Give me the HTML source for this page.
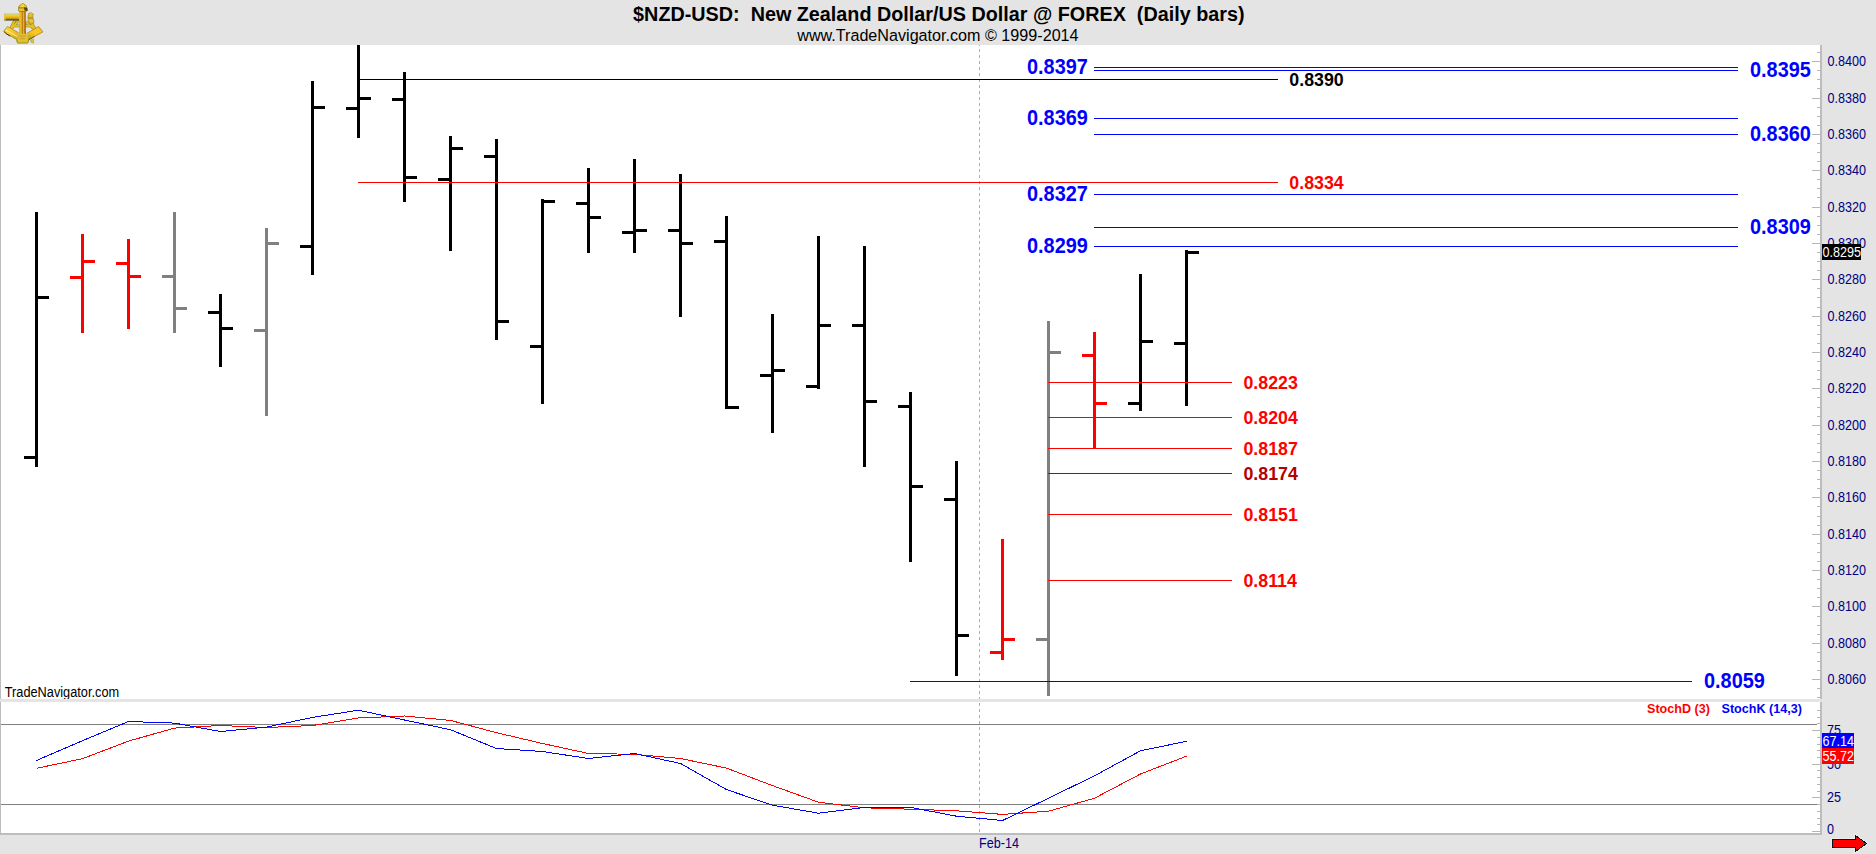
<!DOCTYPE html>
<html lang="en">
<head>
<meta charset="utf-8">
<title>$NZD-USD: New Zealand Dollar/US Dollar @ FOREX (Daily bars)</title>
<style>
html,body{margin:0;padding:0;background:#e4e4e4;overflow:hidden;}
body{width:1876px;height:854px;font-family:"Liberation Sans", sans-serif;}
svg{display:block;}
text{white-space:pre;}
</style>
</head>
<body>
<svg width="1876" height="854" viewBox="0 0 1876 854" font-family='"Liberation Sans", sans-serif'>
<rect x="0" y="0" width="1876" height="854" fill="#e4e4e4"/>
<rect x="0" y="45" width="1820" height="654" fill="#fff"/>
<rect x="0" y="702" width="1820" height="131" fill="#fff"/>
<g shape-rendering="crispEdges">
<rect x="0" y="45" width="1" height="654" fill="#bcbcbc"/>
<rect x="0" y="702" width="1" height="132" fill="#bcbcbc"/>
<rect x="1820" y="45" width="2" height="654" fill="#bdbdbd"/>
<rect x="1820" y="702" width="2" height="133" fill="#bdbdbd"/>
<rect x="0" y="833" width="1822" height="2" fill="#bdbdbd"/>
<line x1="979.5" y1="45" x2="979.5" y2="699" stroke="#adadad" stroke-width="1" stroke-dasharray="3 3" stroke-dashoffset="2"/>
<line x1="979.5" y1="702" x2="979.5" y2="833" stroke="#adadad" stroke-width="1" stroke-dasharray="3 3" stroke-dashoffset="5"/>
<rect x="1817" y="52" width="3" height="1" fill="#b6b6b6"/>
<rect x="1812" y="61" width="8" height="1" fill="#b6b6b6"/>
<rect x="1817" y="70" width="3" height="1" fill="#b6b6b6"/>
<rect x="1817" y="79" width="3" height="1" fill="#b6b6b6"/>
<rect x="1817" y="88" width="3" height="1" fill="#b6b6b6"/>
<rect x="1812" y="98" width="8" height="1" fill="#b6b6b6"/>
<rect x="1817" y="107" width="3" height="1" fill="#b6b6b6"/>
<rect x="1817" y="116" width="3" height="1" fill="#b6b6b6"/>
<rect x="1817" y="125" width="3" height="1" fill="#b6b6b6"/>
<rect x="1812" y="134" width="8" height="1" fill="#b6b6b6"/>
<rect x="1817" y="143" width="3" height="1" fill="#b6b6b6"/>
<rect x="1817" y="152" width="3" height="1" fill="#b6b6b6"/>
<rect x="1817" y="161" width="3" height="1" fill="#b6b6b6"/>
<rect x="1812" y="170" width="8" height="1" fill="#b6b6b6"/>
<rect x="1817" y="179" width="3" height="1" fill="#b6b6b6"/>
<rect x="1817" y="188" width="3" height="1" fill="#b6b6b6"/>
<rect x="1817" y="197" width="3" height="1" fill="#b6b6b6"/>
<rect x="1812" y="207" width="8" height="1" fill="#b6b6b6"/>
<rect x="1817" y="216" width="3" height="1" fill="#b6b6b6"/>
<rect x="1817" y="225" width="3" height="1" fill="#b6b6b6"/>
<rect x="1817" y="234" width="3" height="1" fill="#b6b6b6"/>
<rect x="1812" y="243" width="8" height="1" fill="#b6b6b6"/>
<rect x="1817" y="252" width="3" height="1" fill="#b6b6b6"/>
<rect x="1817" y="261" width="3" height="1" fill="#b6b6b6"/>
<rect x="1817" y="270" width="3" height="1" fill="#b6b6b6"/>
<rect x="1812" y="279" width="8" height="1" fill="#b6b6b6"/>
<rect x="1817" y="288" width="3" height="1" fill="#b6b6b6"/>
<rect x="1817" y="297" width="3" height="1" fill="#b6b6b6"/>
<rect x="1817" y="307" width="3" height="1" fill="#b6b6b6"/>
<rect x="1812" y="316" width="8" height="1" fill="#b6b6b6"/>
<rect x="1817" y="325" width="3" height="1" fill="#b6b6b6"/>
<rect x="1817" y="334" width="3" height="1" fill="#b6b6b6"/>
<rect x="1817" y="343" width="3" height="1" fill="#b6b6b6"/>
<rect x="1812" y="352" width="8" height="1" fill="#b6b6b6"/>
<rect x="1817" y="361" width="3" height="1" fill="#b6b6b6"/>
<rect x="1817" y="370" width="3" height="1" fill="#b6b6b6"/>
<rect x="1817" y="379" width="3" height="1" fill="#b6b6b6"/>
<rect x="1812" y="388" width="8" height="1" fill="#b6b6b6"/>
<rect x="1817" y="397" width="3" height="1" fill="#b6b6b6"/>
<rect x="1817" y="407" width="3" height="1" fill="#b6b6b6"/>
<rect x="1817" y="416" width="3" height="1" fill="#b6b6b6"/>
<rect x="1812" y="425" width="8" height="1" fill="#b6b6b6"/>
<rect x="1817" y="434" width="3" height="1" fill="#b6b6b6"/>
<rect x="1817" y="443" width="3" height="1" fill="#b6b6b6"/>
<rect x="1817" y="452" width="3" height="1" fill="#b6b6b6"/>
<rect x="1812" y="461" width="8" height="1" fill="#b6b6b6"/>
<rect x="1817" y="470" width="3" height="1" fill="#b6b6b6"/>
<rect x="1817" y="479" width="3" height="1" fill="#b6b6b6"/>
<rect x="1817" y="488" width="3" height="1" fill="#b6b6b6"/>
<rect x="1812" y="497" width="8" height="1" fill="#b6b6b6"/>
<rect x="1817" y="506" width="3" height="1" fill="#b6b6b6"/>
<rect x="1817" y="516" width="3" height="1" fill="#b6b6b6"/>
<rect x="1817" y="525" width="3" height="1" fill="#b6b6b6"/>
<rect x="1812" y="534" width="8" height="1" fill="#b6b6b6"/>
<rect x="1817" y="543" width="3" height="1" fill="#b6b6b6"/>
<rect x="1817" y="552" width="3" height="1" fill="#b6b6b6"/>
<rect x="1817" y="561" width="3" height="1" fill="#b6b6b6"/>
<rect x="1812" y="570" width="8" height="1" fill="#b6b6b6"/>
<rect x="1817" y="579" width="3" height="1" fill="#b6b6b6"/>
<rect x="1817" y="588" width="3" height="1" fill="#b6b6b6"/>
<rect x="1817" y="597" width="3" height="1" fill="#b6b6b6"/>
<rect x="1812" y="606" width="8" height="1" fill="#b6b6b6"/>
<rect x="1817" y="616" width="3" height="1" fill="#b6b6b6"/>
<rect x="1817" y="625" width="3" height="1" fill="#b6b6b6"/>
<rect x="1817" y="634" width="3" height="1" fill="#b6b6b6"/>
<rect x="1812" y="643" width="8" height="1" fill="#b6b6b6"/>
<rect x="1817" y="652" width="3" height="1" fill="#b6b6b6"/>
<rect x="1817" y="661" width="3" height="1" fill="#b6b6b6"/>
<rect x="1817" y="670" width="3" height="1" fill="#b6b6b6"/>
<rect x="1812" y="679" width="8" height="1" fill="#b6b6b6"/>
<rect x="1817" y="688" width="3" height="1" fill="#b6b6b6"/>
<rect x="1817" y="697" width="3" height="1" fill="#b6b6b6"/>
<rect x="1812" y="831" width="8" height="1" fill="#b6b6b6"/>
<rect x="1817" y="824" width="3" height="1" fill="#b6b6b6"/>
<rect x="1817" y="818" width="3" height="1" fill="#b6b6b6"/>
<rect x="1817" y="811" width="3" height="1" fill="#b6b6b6"/>
<rect x="1817" y="804" width="3" height="1" fill="#b6b6b6"/>
<rect x="1812" y="797" width="8" height="1" fill="#b6b6b6"/>
<rect x="1817" y="791" width="3" height="1" fill="#b6b6b6"/>
<rect x="1817" y="784" width="3" height="1" fill="#b6b6b6"/>
<rect x="1817" y="777" width="3" height="1" fill="#b6b6b6"/>
<rect x="1817" y="770" width="3" height="1" fill="#b6b6b6"/>
<rect x="1812" y="764" width="8" height="1" fill="#b6b6b6"/>
<rect x="1817" y="757" width="3" height="1" fill="#b6b6b6"/>
<rect x="1817" y="750" width="3" height="1" fill="#b6b6b6"/>
<rect x="1817" y="744" width="3" height="1" fill="#b6b6b6"/>
<rect x="1817" y="737" width="3" height="1" fill="#b6b6b6"/>
<rect x="1812" y="730" width="8" height="1" fill="#b6b6b6"/>
<rect x="1817" y="723" width="3" height="1" fill="#b6b6b6"/>
<rect x="1817" y="717" width="3" height="1" fill="#b6b6b6"/>
<rect x="1817" y="710" width="3" height="1" fill="#b6b6b6"/>
<rect x="1" y="724" width="1816" height="1" fill="#808080"/>
<rect x="1" y="804" width="1816" height="1" fill="#808080"/>
<rect x="35" y="212" width="3" height="255" fill="#000000"/>
<rect x="24" y="456" width="11" height="3" fill="#000000"/>
<rect x="38" y="296" width="11" height="3" fill="#000000"/>
<rect x="81" y="234" width="3" height="99" fill="#ff0000"/>
<rect x="70" y="276" width="11" height="3" fill="#ff0000"/>
<rect x="84" y="260" width="11" height="3" fill="#ff0000"/>
<rect x="127" y="239" width="3" height="90" fill="#ff0000"/>
<rect x="116" y="262" width="11" height="3" fill="#ff0000"/>
<rect x="130" y="275" width="11" height="3" fill="#ff0000"/>
<rect x="173" y="212" width="3" height="121" fill="#808080"/>
<rect x="162" y="275" width="11" height="3" fill="#808080"/>
<rect x="176" y="307" width="11" height="3" fill="#808080"/>
<rect x="219" y="294" width="3" height="73" fill="#000000"/>
<rect x="208" y="311" width="11" height="3" fill="#000000"/>
<rect x="222" y="327" width="11" height="3" fill="#000000"/>
<rect x="265" y="228" width="3" height="188" fill="#808080"/>
<rect x="254" y="329" width="11" height="3" fill="#808080"/>
<rect x="268" y="242" width="11" height="3" fill="#808080"/>
<rect x="311" y="81" width="3" height="194" fill="#000000"/>
<rect x="300" y="245" width="11" height="3" fill="#000000"/>
<rect x="314" y="106" width="11" height="3" fill="#000000"/>
<rect x="357" y="45" width="3" height="93" fill="#000000"/>
<rect x="346" y="107" width="11" height="3" fill="#000000"/>
<rect x="360" y="97" width="11" height="3" fill="#000000"/>
<rect x="403" y="72" width="3" height="130" fill="#000000"/>
<rect x="392" y="98" width="11" height="3" fill="#000000"/>
<rect x="406" y="176" width="11" height="3" fill="#000000"/>
<rect x="449" y="136" width="3" height="115" fill="#000000"/>
<rect x="438" y="178" width="11" height="3" fill="#000000"/>
<rect x="452" y="147" width="11" height="3" fill="#000000"/>
<rect x="495" y="139" width="3" height="201" fill="#000000"/>
<rect x="484" y="155" width="11" height="3" fill="#000000"/>
<rect x="498" y="320" width="11" height="3" fill="#000000"/>
<rect x="541" y="199" width="3" height="205" fill="#000000"/>
<rect x="530" y="345" width="11" height="3" fill="#000000"/>
<rect x="544" y="200" width="11" height="3" fill="#000000"/>
<rect x="587" y="168" width="3" height="85" fill="#000000"/>
<rect x="576" y="202" width="11" height="3" fill="#000000"/>
<rect x="590" y="216" width="11" height="3" fill="#000000"/>
<rect x="633" y="159" width="3" height="94" fill="#000000"/>
<rect x="622" y="231" width="11" height="3" fill="#000000"/>
<rect x="636" y="229" width="11" height="3" fill="#000000"/>
<rect x="679" y="174" width="3" height="143" fill="#000000"/>
<rect x="668" y="229" width="11" height="3" fill="#000000"/>
<rect x="682" y="242" width="11" height="3" fill="#000000"/>
<rect x="725" y="216" width="3" height="193" fill="#000000"/>
<rect x="714" y="240" width="11" height="3" fill="#000000"/>
<rect x="728" y="406" width="11" height="3" fill="#000000"/>
<rect x="771" y="314" width="3" height="119" fill="#000000"/>
<rect x="760" y="374" width="11" height="3" fill="#000000"/>
<rect x="774" y="369" width="11" height="3" fill="#000000"/>
<rect x="817" y="236" width="3" height="153" fill="#000000"/>
<rect x="806" y="385" width="11" height="3" fill="#000000"/>
<rect x="820" y="324" width="11" height="3" fill="#000000"/>
<rect x="863" y="246" width="3" height="221" fill="#000000"/>
<rect x="852" y="324" width="11" height="3" fill="#000000"/>
<rect x="866" y="400" width="11" height="3" fill="#000000"/>
<rect x="909" y="392" width="3" height="170" fill="#000000"/>
<rect x="898" y="405" width="11" height="3" fill="#000000"/>
<rect x="912" y="485" width="11" height="3" fill="#000000"/>
<rect x="955" y="461" width="3" height="215" fill="#000000"/>
<rect x="944" y="498" width="11" height="3" fill="#000000"/>
<rect x="958" y="634" width="11" height="3" fill="#000000"/>
<rect x="1001" y="539" width="3" height="121" fill="#ff0000"/>
<rect x="990" y="651" width="11" height="3" fill="#ff0000"/>
<rect x="1004" y="638" width="11" height="3" fill="#ff0000"/>
<rect x="1047" y="321" width="3" height="375" fill="#808080"/>
<rect x="1036" y="638" width="11" height="3" fill="#808080"/>
<rect x="1050" y="351" width="11" height="3" fill="#808080"/>
<rect x="1093" y="332" width="3" height="116" fill="#ff0000"/>
<rect x="1082" y="354" width="11" height="3" fill="#ff0000"/>
<rect x="1096" y="402" width="11" height="3" fill="#ff0000"/>
<rect x="1139" y="274" width="3" height="137" fill="#000000"/>
<rect x="1128" y="402" width="11" height="3" fill="#000000"/>
<rect x="1142" y="340" width="11" height="3" fill="#000000"/>
<rect x="1185" y="250" width="3" height="156" fill="#000000"/>
<rect x="1174" y="342" width="11" height="3" fill="#000000"/>
<rect x="1188" y="251" width="11" height="3" fill="#000000"/>
<rect x="360" y="79" width="918" height="1" fill="#000"/>
<rect x="358" y="182" width="920" height="1" fill="#ff0000"/>
<rect x="1094" y="67" width="644" height="1" fill="#0000ff"/>
<rect x="1094" y="70" width="644" height="1" fill="#0000ff"/>
<rect x="1094" y="118" width="644" height="1" fill="#0000ff"/>
<rect x="1094" y="134" width="644" height="1" fill="#0000ff"/>
<rect x="1094" y="194" width="644" height="1" fill="#0000ff"/>
<rect x="1094" y="227" width="644" height="1" fill="#0000ff"/>
<rect x="1094" y="246" width="644" height="1" fill="#0000ff"/>
<rect x="910" y="681" width="782" height="1" fill="#0000ff"/>
<rect x="1048" y="382" width="184" height="1" fill="#ff0000"/>
<rect x="1048" y="417" width="184" height="1" fill="#ff0000"/>
<rect x="1048" y="448" width="184" height="1" fill="#ff0000"/>
<rect x="1048" y="473" width="184" height="1" fill="#c00000"/>
<rect x="1048" y="514" width="184" height="1" fill="#ff0000"/>
<rect x="1048" y="580" width="184" height="1" fill="#ff0000"/>
<polyline points="36.5,768.3 82.5,758.7 128.5,741.1 174.5,728.1 220.5,725.5 266.5,727.5 312.5,725.5 358.5,718.0 404.5,716.0 450.5,720.4 496.5,732.7 542.5,743.5 588.5,753.5 634.5,754.3 680.5,758.5 726.5,768.1 772.5,785.6 818.5,802.2 864.5,807.8 910.5,809.2 956.5,810.8 1002.5,814.4 1048.5,811.2 1094.5,798.2 1140.5,774.0 1186.5,756.2" fill="none" stroke="#ff0000" stroke-width="1"/>
<polyline points="36.5,760.5 82.5,740.7 128.5,721.5 174.5,723.1 220.5,731.5 266.5,727.1 312.5,717.4 358.5,710.2 404.5,720.0 450.5,729.7 496.5,748.5 542.5,751.5 588.5,758.5 634.5,753.5 680.5,763.5 726.5,789.6 772.5,805.2 818.5,813.2 864.5,807.4 910.5,807.4 956.5,816.2 1002.5,820.5 1048.5,798.2 1094.5,775.8 1140.5,750.8 1186.5,741.3" fill="none" stroke="#0000ff" stroke-width="1"/>
<rect x="1822" y="244" width="39" height="16" fill="#000"/>
<rect x="1822" y="733" width="32" height="15" fill="#0000ff"/>
<rect x="1822" y="748" width="32" height="16" fill="#ff0000"/>
</g>
<polygon points="1832.5,839.5 1855.5,839.5 1855.5,835.5 1866.5,843.5 1855.5,851.5 1855.5,847.5 1832.5,847.5" fill="none" stroke="#eeeeee" stroke-width="2.6" stroke-linejoin="miter"/>
<polygon points="1832.5,839.5 1855.5,839.5 1855.5,835.5 1866.5,843.5 1855.5,851.5 1855.5,847.5 1832.5,847.5" fill="#ff0000" stroke="#101010" stroke-width="1" shape-rendering="crispEdges"/>
<text transform="translate(938.8 20.6) scale(1 1.045)" font-size="19.78" fill="#000" font-weight="bold" text-anchor="middle" xml:space="preserve">$NZD-USD:&#160; New Zealand Dollar/US Dollar @ FOREX&#160; (Daily bars)</text>
<text x="937.9" y="40.7" font-size="16.15" fill="#000" font-weight="normal" text-anchor="middle" >www.TradeNavigator.com © 1999-2014</text>
<text transform="translate(1827.5 66.0) scale(1 1.1)" font-size="12.6" fill="#000080" font-weight="normal" text-anchor="start" >0.8400</text>
<text transform="translate(1827.5 103.0) scale(1 1.1)" font-size="12.6" fill="#000080" font-weight="normal" text-anchor="start" >0.8380</text>
<text transform="translate(1827.5 139.0) scale(1 1.1)" font-size="12.6" fill="#000080" font-weight="normal" text-anchor="start" >0.8360</text>
<text transform="translate(1827.5 175.0) scale(1 1.1)" font-size="12.6" fill="#000080" font-weight="normal" text-anchor="start" >0.8340</text>
<text transform="translate(1827.5 212.0) scale(1 1.1)" font-size="12.6" fill="#000080" font-weight="normal" text-anchor="start" >0.8320</text>
<text transform="translate(1827.5 248.0) scale(1 1.1)" font-size="12.6" fill="#000080" font-weight="normal" text-anchor="start" >0.8300</text>
<text transform="translate(1827.5 284.0) scale(1 1.1)" font-size="12.6" fill="#000080" font-weight="normal" text-anchor="start" >0.8280</text>
<text transform="translate(1827.5 321.0) scale(1 1.1)" font-size="12.6" fill="#000080" font-weight="normal" text-anchor="start" >0.8260</text>
<text transform="translate(1827.5 357.0) scale(1 1.1)" font-size="12.6" fill="#000080" font-weight="normal" text-anchor="start" >0.8240</text>
<text transform="translate(1827.5 393.0) scale(1 1.1)" font-size="12.6" fill="#000080" font-weight="normal" text-anchor="start" >0.8220</text>
<text transform="translate(1827.5 430.0) scale(1 1.1)" font-size="12.6" fill="#000080" font-weight="normal" text-anchor="start" >0.8200</text>
<text transform="translate(1827.5 466.0) scale(1 1.1)" font-size="12.6" fill="#000080" font-weight="normal" text-anchor="start" >0.8180</text>
<text transform="translate(1827.5 502.0) scale(1 1.1)" font-size="12.6" fill="#000080" font-weight="normal" text-anchor="start" >0.8160</text>
<text transform="translate(1827.5 539.0) scale(1 1.1)" font-size="12.6" fill="#000080" font-weight="normal" text-anchor="start" >0.8140</text>
<text transform="translate(1827.5 575.0) scale(1 1.1)" font-size="12.6" fill="#000080" font-weight="normal" text-anchor="start" >0.8120</text>
<text transform="translate(1827.5 611.0) scale(1 1.1)" font-size="12.6" fill="#000080" font-weight="normal" text-anchor="start" >0.8100</text>
<text transform="translate(1827.5 648.0) scale(1 1.1)" font-size="12.6" fill="#000080" font-weight="normal" text-anchor="start" >0.8080</text>
<text transform="translate(1827.5 684.0) scale(1 1.1)" font-size="12.6" fill="#000080" font-weight="normal" text-anchor="start" >0.8060</text>
<text transform="translate(1827.0 735.0) scale(1 1.1)" font-size="12.6" fill="#000080" font-weight="normal" text-anchor="start" >75</text>
<text transform="translate(1827.0 769.0) scale(1 1.1)" font-size="12.6" fill="#000080" font-weight="normal" text-anchor="start" >50</text>
<text transform="translate(1827.0 802.0) scale(1 1.1)" font-size="12.6" fill="#000080" font-weight="normal" text-anchor="start" >25</text>
<text transform="translate(1827.0 833.6) scale(1 1.1)" font-size="12.6" fill="#000080" font-weight="normal" text-anchor="start" >0</text>
<g shape-rendering="crispEdges">
<rect x="1822" y="244" width="39" height="16" fill="#000"/>
<rect x="1822" y="733" width="32" height="15" fill="#0000ff"/>
<rect x="1822" y="748" width="32" height="16" fill="#ff0000"/>
</g>
<text transform="translate(1822.4 257.3) scale(1 1.1)" font-size="12.6" fill="#fff" font-weight="normal" text-anchor="start" >0.8295</text>
<text transform="translate(1822.4 746.1) scale(1 1.1)" font-size="12.6" fill="#fff" font-weight="normal" text-anchor="start" >67.14</text>
<text transform="translate(1822.4 761.1) scale(1 1.1)" font-size="12.6" fill="#fff" font-weight="normal" text-anchor="start" >55.72</text>
<text transform="translate(1027 74.3) scale(1 1.065)" font-size="19.9" fill="#0000ff" font-weight="bold" text-anchor="start" >0.8397</text>
<text transform="translate(1027 125.3) scale(1 1.065)" font-size="19.9" fill="#0000ff" font-weight="bold" text-anchor="start" >0.8369</text>
<text transform="translate(1027 201.3) scale(1 1.065)" font-size="19.9" fill="#0000ff" font-weight="bold" text-anchor="start" >0.8327</text>
<text transform="translate(1027 253.3) scale(1 1.065)" font-size="19.9" fill="#0000ff" font-weight="bold" text-anchor="start" >0.8299</text>
<text transform="translate(1750 77.3) scale(1 1.065)" font-size="19.9" fill="#0000ff" font-weight="bold" text-anchor="start" >0.8395</text>
<text transform="translate(1750 141.3) scale(1 1.065)" font-size="19.9" fill="#0000ff" font-weight="bold" text-anchor="start" >0.8360</text>
<text transform="translate(1750 234.3) scale(1 1.065)" font-size="19.9" fill="#0000ff" font-weight="bold" text-anchor="start" >0.8309</text>
<text transform="translate(1704 688.3) scale(1 1.065)" font-size="19.9" fill="#0000ff" font-weight="bold" text-anchor="start" >0.8059</text>
<text transform="translate(1289.3 85.5) scale(1 1.015)" font-size="17.8" fill="#000" font-weight="bold" text-anchor="start" >0.8390</text>
<text transform="translate(1289.3 188.5) scale(1 1.015)" font-size="17.8" fill="#ff0000" font-weight="bold" text-anchor="start" >0.8334</text>
<text transform="translate(1243.4 388.5) scale(1 1.015)" font-size="17.8" fill="#ff0000" font-weight="bold" text-anchor="start" >0.8223</text>
<text transform="translate(1243.4 423.5) scale(1 1.015)" font-size="17.8" fill="#ff0000" font-weight="bold" text-anchor="start" >0.8204</text>
<text transform="translate(1243.4 454.5) scale(1 1.015)" font-size="17.8" fill="#ff0000" font-weight="bold" text-anchor="start" >0.8187</text>
<text transform="translate(1243.4 479.5) scale(1 1.015)" font-size="17.8" fill="#b40000" font-weight="bold" text-anchor="start" >0.8174</text>
<text transform="translate(1243.4 520.5) scale(1 1.015)" font-size="17.8" fill="#ff0000" font-weight="bold" text-anchor="start" >0.8151</text>
<text transform="translate(1243.4 586.5) scale(1 1.015)" font-size="17.8" fill="#ff0000" font-weight="bold" text-anchor="start" >0.8114</text>
<text transform="translate(4.7 697.3) scale(1 1.1)" font-size="12.78" fill="#000" font-weight="normal" text-anchor="start" >TradeNavigator.com</text>
<rect x="0" y="699" width="1820" height="3" fill="#e4e4e4"/>
<text transform="translate(979 848) scale(1 1.1)" font-size="12.6" fill="#000080" font-weight="normal" text-anchor="start" >Feb-14</text>
<text transform="translate(1647 713) scale(1 1.08)" font-size="12.6" fill="#ff0000" font-weight="bold" text-anchor="start" >StochD (3)</text>
<text transform="translate(1721.5 713) scale(1 1.08)" font-size="12.6" fill="#0000ff" font-weight="bold" text-anchor="start" >StochK (14,3)</text>
<defs>
<linearGradient id="gTel" x1="0" y1="0" x2="0" y2="1"><stop offset="0" stop-color="#8fc9b8"/><stop offset="0.16" stop-color="#e8d460"/><stop offset="0.4" stop-color="#f7c21e"/><stop offset="0.68" stop-color="#d0a418"/><stop offset="0.86" stop-color="#6d5f08"/><stop offset="1" stop-color="#2c2600"/></linearGradient>
<linearGradient id="gCol" x1="0" y1="0" x2="1" y2="0"><stop offset="0" stop-color="#b9ab24"/><stop offset="0.25" stop-color="#efc428"/><stop offset="0.5" stop-color="#c07c18"/><stop offset="0.66" stop-color="#e6bc28"/><stop offset="0.82" stop-color="#b06e16"/><stop offset="1" stop-color="#8a7612"/></linearGradient>
<linearGradient id="gArcL" x1="0" y1="0" x2="0.45" y2="1"><stop offset="0" stop-color="#ffd83e"/><stop offset="0.5" stop-color="#f7c326"/><stop offset="1" stop-color="#b3a21e"/></linearGradient>
<linearGradient id="gArcR" x1="1" y1="0" x2="0.55" y2="1"><stop offset="0" stop-color="#f6c428"/><stop offset="0.5" stop-color="#fbc624"/><stop offset="1" stop-color="#a8961a"/></linearGradient>
</defs>
<g id="logo" transform="translate(0.15 0.7)">
<path d="M18.6 19.6 L11.6 27.6 M14.6 19.8 L10.8 27.2 M13.4 25.2 L32.6 25.2 M25.6 21 L33.8 28.2 M31.2 22.4 L34.6 27.6" stroke="#7c6c10" stroke-width="2.8" fill="none" opacity="0.85"/>
<path d="M18.6 19.6 L11.6 27.6 M14.6 19.8 L10.8 27.2 M13.4 25.2 L32.6 25.2 M25.6 21 L33.8 28.2 M31.2 22.4 L34.6 27.6" stroke="#e8be26" stroke-width="1.8" fill="none"/>
<path d="M7.4 25.8 L3.4 30.6 L5.6 32.6 L16.4 38.8 L17.4 42.2 L22.6 42.2 L22.6 33 L19 33 L17.6 31.6 Z" fill="url(#gArcL)" stroke="#8f7e16" stroke-width="0.7"/>
<path d="M38.4 25.8 L42.8 31.2 L33 36.4 L28.8 38.8 L27.6 42.2 L22.4 42.2 L22.4 33 L26 33 L28.4 31.6 Z" fill="url(#gArcR)" stroke="#8f7e16" stroke-width="0.7"/>
<path d="M17.4 32.2 L27.6 32.2 L27.8 42.2 L17.2 42.2 Z" fill="#dfc232"/>
<path d="M18.4 35.4 L26 35.4 M19.4 38 L25 38" stroke="#c08a22" stroke-width="0.9" opacity="0.75" fill="none"/>
<path d="M5.6 29.4 L17 35.8" stroke="#fff2a8" stroke-width="1.2" opacity="0.75" fill="none"/>
<path d="M4 31 L6.6 33.4 M6.6 33.4 L10 35.4" stroke="#2e2800" stroke-width="1" fill="none" opacity="0.85"/>
<path d="M28.8 39 L34.4 35.8" stroke="#4a3e00" stroke-width="1" fill="none" opacity="0.8"/>
<path d="M16.6 39 L17.4 42.2 L27.6 42.2 L28.6 39.2" stroke="#a4941c" stroke-width="0.9" fill="none"/>
<rect x="4.2" y="12.9" width="14.6" height="6.9" fill="url(#gTel)"/>
<rect x="4.2" y="12.9" width="1.3" height="6.9" fill="#d6c440" opacity="0.9"/>
<path d="M19.2 9.6 L25.6 9.6 L25.8 33 L19 33 Z" fill="url(#gCol)"/>
<path d="M18.4 8.8 Q18 5.2 20 4.4 Q22.6 1.4 25 4.2 Q27 5.2 26.8 8.8 Q27.6 10.2 25.6 10.8 L19.4 10.8 Q17.8 10.2 18.4 8.8 Z" fill="#ecc02c" stroke="#7e6e12" stroke-width="0.7"/>
<path d="M20.6 4.2 Q22.6 2.6 24.4 4.2 L24 6 L20.8 6 Z" fill="#ffd84a" opacity="0.85"/>
<path d="M18.8 7.2 L26.8 7.2" stroke="#7a6a10" stroke-width="0.9" opacity="0.8"/>
<path d="M23.8 6.6 L27.2 7.6 L27.6 10.4 L24.4 9.8 Z" fill="#3e3604" opacity="0.9"/>
<path d="M28.6 12.6 Q31 11.2 33 13.2 L32.6 17 Q34.2 19 33.6 22.6 L29.6 23.6 L28 19.6 Q27.2 16 28.6 12.6 Z" fill="#e3bc2c" stroke="#8c7a16" stroke-width="0.6"/>
<path d="M28.2 17.2 L32.8 17.2" stroke="#9c8e26" stroke-width="1.3"/>
<path d="M29.4 13.2 L32.2 13.2 M29.8 20 L32.8 20.6" stroke="#f7de5c" stroke-width="0.8" opacity="0.8"/>
<path d="M30.6 39.2 L33.4 38.4 L33.4 42.6 L30.6 41.4 Z" fill="#e1be2c" stroke="#9c8a1a" stroke-width="0.4"/>
</g>
</svg>
</body>
</html>
